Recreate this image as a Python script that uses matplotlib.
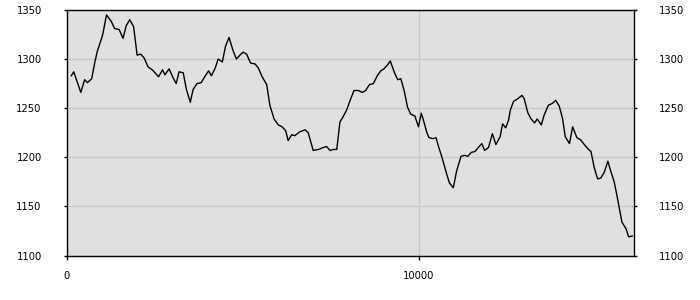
import matplotlib
matplotlib.use("Agg")
import matplotlib.pyplot as plt

x_vals = [130, 200, 400, 510, 590, 710, 800, 870, 990, 1030, 1130, 1270, 1360, 1490,
          1600, 1690, 1790, 1900, 2000, 2100, 2200, 2310, 2430, 2610, 2720, 2790,
          2910, 3020, 3110, 3190, 3310, 3400, 3510, 3590, 3700, 3820, 3920, 4030,
          4110, 4220, 4300, 4420, 4510, 4610, 4730, 4820, 4920, 5010, 5110, 5220,
          5350, 5440, 5550, 5680, 5770, 5890, 6010, 6120, 6220, 6290, 6390, 6480,
          6620, 6770, 6860, 7000, 7150, 7290, 7380, 7480, 7570, 7670, 7760, 7830,
          7950, 8050, 8160, 8280, 8400, 8490, 8600, 8710, 8820, 8920, 9010, 9110,
          9190, 9310, 9400, 9490, 9590, 9680, 9770, 9890, 9990, 10070, 10130, 10230,
          10290, 10400, 10490, 10560, 10650, 10720, 10800, 10870, 10980, 11080,
          11200, 11300, 11390, 11490, 11600, 11690, 11790, 11870, 11980, 12090,
          12190, 12310, 12380, 12470, 12550, 12600, 12690, 12790, 12930, 12990,
          13100, 13190, 13290, 13360, 13480, 13560, 13680, 13800, 13890, 13990,
          14080, 14160, 14280, 14370, 14490, 14590, 14700, 14820, 14890, 14980,
          15080, 15170, 15270, 15370, 15460, 15550, 15650, 15770, 15890, 15960, 16060]
y_vals = [1283, 1287, 1266, 1279, 1276, 1280, 1297, 1308, 1321, 1326, 1345, 1338, 1331, 1330,
          1321, 1334, 1340, 1333, 1304, 1305, 1301, 1292, 1289, 1282, 1289, 1284,
          1290, 1281, 1275, 1287, 1286, 1269, 1256, 1269, 1275, 1276, 1282, 1288,
          1283, 1291, 1300, 1297, 1313, 1322, 1308, 1300, 1304, 1307, 1305, 1296,
          1295, 1291, 1282, 1274, 1253, 1239, 1233, 1231, 1227, 1217, 1223, 1222,
          1226, 1228, 1225, 1207, 1208, 1210, 1211, 1207, 1208, 1208, 1236, 1240,
          1248, 1258, 1268, 1268, 1266, 1268, 1274, 1275, 1283, 1288, 1290, 1294,
          1298, 1286, 1279, 1280, 1267, 1251, 1244, 1242, 1231, 1245, 1238, 1225,
          1220, 1219, 1220, 1211, 1201, 1192, 1182, 1174, 1169, 1187,
          1201, 1202, 1201, 1205, 1206, 1210, 1214, 1207, 1210, 1224,
          1213, 1221, 1234, 1230, 1238, 1248, 1257, 1259, 1263, 1260,
          1245, 1239, 1235, 1239, 1233, 1243, 1253, 1255, 1258, 1252,
          1240, 1221, 1214, 1231, 1220, 1218, 1213, 1208, 1206, 1190,
          1178, 1179, 1185, 1196, 1185, 1175, 1157, 1134, 1127, 1119, 1120]
y_ticks = [1100, 1150, 1200, 1250, 1300, 1350]
x_ticks = [0, 10000]

fig = plt.figure(figsize=(7, 3), dpi=100)
ax = fig.add_axes([0.0953, 0.148, 0.8108, 0.819])
ax.set_facecolor('#e0e0e0')
ax.plot(x_vals, y_vals, color='black', lw=1.0)
ax.set_xlim(0, 16120)
ax.set_ylim(1100, 1350)
ax.set_yticks(y_ticks)
ax.set_xticks(x_ticks)
ax.grid(True, color='#c8c8c8', lw=1.0)
ax.set_axisbelow(True)
for s in ax.spines.values():
    s.set_color('black')
    s.set_linewidth(1.0)
ax.tick_params(axis='y', which='both', left=True, right=True, labelleft=True,
               labelright=True, length=2.5, width=1, direction='out',
               labelsize=7.2, colors='black', pad=15.5)
ax.tick_params(axis='y', which='both', labelright=True)
for lbl in ax.get_yticklabels(which='both'):
    pass
ax.tick_params(axis='x', length=3, width=1, direction='out', labelsize=7.2, pad=8)
fig.savefig('out.png', dpi=100)
